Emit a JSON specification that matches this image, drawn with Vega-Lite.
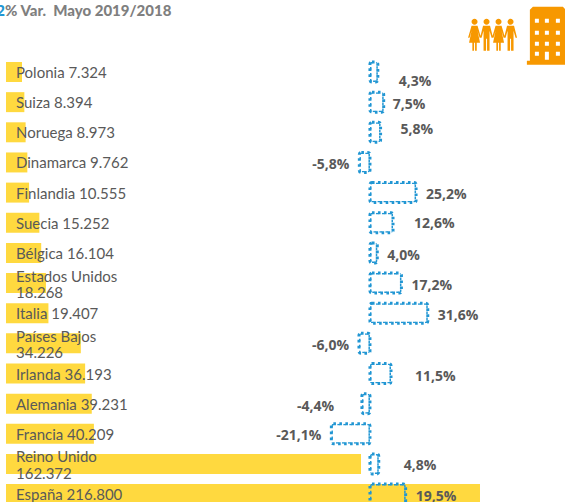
{"$schema":"https://vega.github.io/schema/vega-lite/v6.json","width":565,"height":502,"autosize":"none","padding":0,"background":"white","config":{"view":{"stroke":null}},
"data":{"values":[
{"pais":"Polonia","etiqueta":"Polonia 7.324","turistas":7324,"var":4.3,"texto":"4,3%"},
{"pais":"Suiza","etiqueta":"Suiza 8.394","turistas":8394,"var":7.5,"texto":"7,5%"},
{"pais":"Noruega","etiqueta":"Noruega 8.973","turistas":8973,"var":5.8,"texto":"5,8%"},
{"pais":"Dinamarca","etiqueta":"Dinamarca 9.762","turistas":9762,"var":-5.8,"texto":"-5,8%"},
{"pais":"Finlandia","etiqueta":"Finlandia 10.555","turistas":10555,"var":25.2,"texto":"25,2%"},
{"pais":"Suecia","etiqueta":"Suecia 15.252","turistas":15252,"var":12.6,"texto":"12,6%"},
{"pais":"Bélgica","etiqueta":"Bélgica 16.104","turistas":16104,"var":4.0,"texto":"4,0%"},
{"pais":"Estados Unidos","etiqueta":"Estados Unidos\n18.268","turistas":18268,"var":17.2,"texto":"17,2%"},
{"pais":"Italia","etiqueta":"Italia 19.407","turistas":19407,"var":31.6,"texto":"31,6%"},
{"pais":"Países Bajos","etiqueta":"Países Bajos\n34.226","turistas":34226,"var":-6.0,"texto":"-6,0%"},
{"pais":"Irlanda","etiqueta":"Irlanda 36.193","turistas":36193,"var":11.5,"texto":"11,5%"},
{"pais":"Alemania","etiqueta":"Alemania 39.231","turistas":39231,"var":-4.4,"texto":"-4,4%"},
{"pais":"Francia","etiqueta":"Francia 40.209","turistas":40209,"var":-21.1,"texto":"-21,1%"},
{"pais":"Reino Unido","etiqueta":"Reino Unido\n162.372","turistas":162372,"var":4.8,"texto":"4,8%"},
{"pais":"España","etiqueta":"España 216.800","turistas":216800,"var":19.5,"texto":"19,5%"}
]},
"encoding":{"y":{"field":"pais","type":"nominal","axis":null,"scale":{"domain":["Título","Iconos","Polonia","Suiza","Noruega","Dinamarca","Finlandia","Suecia","Bélgica","Estados Unidos","Italia","Países Bajos","Irlanda","Alemania","Francia","Reino Unido","España"],"range":[-3.375,509.175],"paddingInner":0.337,"paddingOuter":0.1685}}},
"layer":[
{"mark":{"type":"bar","color":"#FFD93F"},"encoding":{"x":{"field":"turistas","type":"quantitative","axis":null,"scale":{"domain":[0,255680],"range":[6,565],"nice":false}}}},
{"mark":{"type":"text","align":"left","baseline":"middle","dx":10,"dy":{"expr":"indexof(datum.etiqueta,'\\n')>=0?-6.5:1"},"font":"Lato","fontSize":15,"color":"#595959","lineBreak":"\n","lineHeight":16.5},"encoding":{"text":{"field":"etiqueta"},"x":{"datum":0,"type":"quantitative","axis":null,"scale":{"domain":[0,255680],"range":[6,565],"nice":false}}}},
{"mark":{"type":"bar","fill":"transparent","stroke":"#2196D3","strokeWidth":3,"strokeDash":[2.6,3.4],"cornerRadius":2},"encoding":{"x":{"field":"var","type":"quantitative","axis":null,"scale":{"domain":[-202.2,106.6],"range":[0,565],"nice":false}}}},
{"mark":{"type":"text","align":"left","baseline":"middle","font":"Open Sans","fontWeight":"bold","fontSize":14,"color":"#595959",
"dx":{"expr":"{'Polonia':21,'Suiza':9,'Noruega':20,'Dinamarca':-47,'Finlandia':10,'Suecia':21,'Bélgica':10,'Estados Unidos':10,'Italia':10,'Países Bajos':-47,'Irlanda':24,'Alemania':-65,'Francia':-55,'Reino Unido':25,'España':10}[datum.pais]"},
"dy":{"expr":"{'Polonia':10,'Suiza':3,'Noruega':-2,'Dinamarca':3,'Finlandia':2.5,'Suecia':1,'Bélgica':3,'Estados Unidos':3,'Italia':3,'Países Bajos':3,'Irlanda':3,'Alemania':3,'Francia':2.5,'Reino Unido':2,'España':3}[datum.pais]"}},
"encoding":{"text":{"field":"texto"},"x":{"field":"var","type":"quantitative","axis":null,"scale":{"domain":[-202.2,106.6],"range":[0,565],"nice":false}}}},
{"data":{"values":[{"pais":"Título","titulo":"% Var.\u00a0 Mayo 2019/2018","cifra":"2"}]},"mark":{"type":"text","align":"left","baseline":"middle","dy":-1,"dx":-1,"font":"Lato","fontWeight":900,"fontSize":15,"color":"#7F7F7F"},"encoding":{"text":{"field":"titulo"},"x":{"datum":0,"type":"quantitative","axis":null,"scale":{"domain":[0,255680],"range":[6,565],"nice":false}}}},
{"data":{"values":[{"pais":"Título","titulo":"% Var.\u00a0 Mayo 2019/2018","cifra":"2"}]},"mark":{"type":"text","align":"right","baseline":"middle","dy":-1,"dx":-1,"font":"Lato","fontWeight":900,"fontSize":15,"color":"#2196D3"},"encoding":{"text":{"field":"cifra"},"x":{"datum":0,"type":"quantitative","axis":null,"scale":{"domain":[0,255680],"range":[6,565],"nice":false}}}},
{"data":{"values":[{"pais":"Iconos","v":67}]},"mark":{"type":"point","filled":true,"opacity":1,"size":4,"color":"#F79800","yOffset":-7,"shape":"M-21 -13a3 3 0 1 0 6 0a3 3 0 1 0 -6 0ZM-21 -9L-15 -9L-11.5 3L-13 3L-15 -4L-12.5 8L-15.8 8L-15.8 16L-17.5 16L-17.5 8L-18.5 8L-18.5 16L-20.2 16L-20.2 8L-23.5 8L-21 -4L-23 3L-24.5 3ZM-9 -13a3 3 0 1 0 6 0a3 3 0 1 0 -6 0ZM-9.5 -9L-2.5 -9L0.5 3L-1 3L-3 -4L-3 16L-5.5 16L-5.5 4L-6.5 4L-6.5 16L-9 16L-9 -4L-11 3L-12.5 3ZM3 -13a3 3 0 1 0 6 0a3 3 0 1 0 -6 0ZM3 -9L9 -9L12.5 3L11 3L9 -4L11.5 8L8.2 8L8.2 16L6.5 16L6.5 8L5.5 8L5.5 16L3.8 16L3.8 8L0.5 8L3 -4L1 3L-0.5 3ZM15 -13a3 3 0 1 0 6 0a3 3 0 1 0 -6 0ZM14.5 -9L21.5 -9L24.5 3L23 3L21 -4L21 16L18.5 16L18.5 4L17.5 4L17.5 16L15 16L15 -4L13 3L11.5 3Z"},"encoding":{"x":{"field":"v","type":"quantitative","axis":null,"scale":{"domain":[-202.2,106.6],"range":[0,565],"nice":false}}}},
{"data":{"values":[{"pais":"Iconos","v":96.7}]},"mark":{"type":"point","filled":true,"opacity":1,"size":4,"color":"#F79800","yOffset":-6,"shape":"M-20 29L-20 25L-17 25L-17 -26L-14 -29L16 -29L19 -26L19 25L20 25L20 29ZM-12 -17L-12 -13L-8 -13L-8 -17ZM-2 -17L-2 -13L2 -13L2 -17ZM9 -17L9 -13L13 -13L13 -17ZM-12 -5L-12 -1L-8 -1L-8 -5ZM-2 -5L-2 -1L2 -1L2 -5ZM9 -5L9 -1L13 -1L13 -5ZM-12 6L-12 10L-8 10L-8 6ZM-2 6L-2 10L2 10L2 6ZM9 6L9 10L13 10L13 6ZM-12 16L-12 20L-8 20L-8 16ZM-2 16L-2 24L2 24L2 16ZM9 16L9 20L13 20L13 16Z"},"encoding":{"x":{"field":"v","type":"quantitative","axis":null,"scale":{"domain":[-202.2,106.6],"range":[0,565],"nice":false}}}}
],"resolve":{"scale":{"x":"independent"}}}
